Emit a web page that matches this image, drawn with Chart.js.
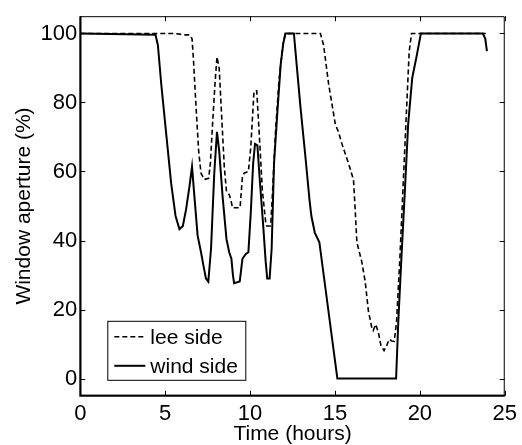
<!DOCTYPE html>
<html>
<head>
<meta charset="utf-8">
<script src="https://cdn.jsdelivr.net/npm/chart.js@4/dist/chart.umd.min.js"></script>
<style>
html,body{margin:0;padding:0;background:#fff;}
#wrap{width:522px;height:445px;}
</style>
</head>
<body>
<div id="wrap"><canvas id="c" width="522" height="445"></canvas></div>
<script>
// ---- data ----
const windT = [0,4.43,4.57,4.77,5.06,5.35,5.61,5.84,6.04,6.23,6.43,6.58,6.72,6.91,7.11,7.25,7.4,7.54,7.7,7.89,8.05,8.18,8.38,8.61,8.77,8.9,8.99,9.06,9.39,9.55,9.75,9.9,10.04,10.18,10.29,10.43,10.57,10.76,10.92,11.01,11.15,11.27,11.41,11.6,11.8,11.95,12.08,12.58,12.71,12.97,13.26,13.5,13.61,13.81,14.08,15.14,18.6,18.73,18.92,19.12,19.31,19.55,19.8,20.06,23.71,23.85,23.95];
const windV = [100,99.6,96.6,85.2,70.9,56.6,47.1,43.3,44.2,49,55.7,61.4,52.8,41.4,36.6,32.8,29,28.1,37.6,59.5,71.5,66,52.8,40.4,36.6,34.7,30,27.6,28.1,34.7,36.1,36.6,48,62.3,68,67.6,57.6,45.2,33.8,29,29,37.6,62.3,76.6,90.9,97,100,100,92.8,78.5,64.2,51.8,47.1,42.3,39.5,0,0,16.6,35.7,54.7,73.7,87.1,93.2,100,100,98.5,94.9];

const leeT = [0,5.5,6.2,6.43,6.58,6.66,6.82,6.97,7.11,7.3,7.56,7.66,7.79,7.93,8.05,8.18,8.34,8.48,8.61,8.77,8.87,8.96,9.41,9.55,9.65,9.9,10.04,10.23,10.39,10.53,10.72,10.92,10.98,11.21,11.31,11.5,11.7,11.8,11.95,12.08,14.14,14.33,14.63,15.02,15.21,15.41,15.8,16.09,16.19,16.29,16.58,16.78,16.97,17.17,17.25,17.4,17.56,17.71,17.89,18.04,18.2,18.34,18.49,18.63,18.83,19.02,19.22,19.37,19.51,23.88];
const leeV = [100,100,99.6,99.6,98.5,92.8,78.5,66,59.5,57.7,58,62.3,73.7,85.2,93.2,89.9,74.7,61.4,54.2,53.3,51.8,49.5,49.5,58.5,59.5,60,67,83.2,83.4,71.8,54.7,45.2,44.2,44.2,52.8,71.8,86.1,90.9,97,100,100,96.6,85.2,73.7,71.4,68,62.3,57.6,49,39.5,33.8,28.1,19.5,14.7,13.9,15.7,13.3,9.5,8.1,9.5,11.4,10.9,10.8,16.6,35.7,56.6,78.5,94.7,100,100];

const xTicks = [0,5,10,15,20,25];
const yTicks = [0,20,40,60,80,100];
const seriesNames = ['lee side','wind side'];
const axisTitles = {x:'Time (hours)', y:'Window aperture (%)'};

const FONT = 'Liberation Sans, Arial, Helvetica, sans-serif';
const toXY = (t,v) => t.map((x,i)=>({x:x,y:v[i]}));

// inward ticks, full box
const boxTicks = {
  id:'boxTicks',
  afterDraw(chart){
    const {ctx, chartArea:a, scales:{x,y}} = chart;
    ctx.save();
    ctx.strokeStyle='#000'; ctx.lineWidth=1;
    ctx.beginPath();
    ctx.rect(a.left+0.5, a.top+0.5, a.right-a.left-1, a.bottom-a.top-1);
    const L=5;
    x.ticks.forEach(t=>{
      const px=Math.round(x.getPixelForValue(t.value))+0.5;
      ctx.moveTo(px,a.bottom); ctx.lineTo(px,a.bottom-L);
      ctx.moveTo(px,a.top); ctx.lineTo(px,a.top+L);
    });
    y.ticks.forEach(t=>{
      const py=Math.round(y.getPixelForValue(t.value))+0.5;
      ctx.moveTo(a.left,py); ctx.lineTo(a.left+L,py);
      ctx.moveTo(a.right,py); ctx.lineTo(a.right-L,py);
    });
    ctx.stroke();
    ctx.lineWidth=2;
    ctx.beginPath();
    ctx.moveTo(a.left, a.top); ctx.lineTo(a.left, a.bottom); ctx.lineTo(a.right, a.bottom);
    ctx.stroke();
    ctx.restore();
  }
};

// legend inside lower-left corner
const boxLegend = {
  id:'boxLegend',
  afterDraw(chart){
    const {ctx, chartArea:a} = chart;
    const bx=a.left+27, bw=138, bh=59, by=a.bottom-16-bh;
    ctx.save();
    ctx.fillStyle='#fff';
    ctx.fillRect(bx,by,bw,bh);
    ctx.strokeStyle='#000'; ctx.lineWidth=1;
    ctx.strokeRect(bx+0.5,by+0.5,bw,bh);
    ctx.font='21px '+FONT;
    ctx.textBaseline='middle';
    ctx.fillStyle='#000';
    chart.data.datasets.forEach((ds,i)=>{
      const yy = by+16+i*29;
      ctx.beginPath();
      ctx.setLineDash(ds.borderDash||[]);
      ctx.lineWidth=ds.borderWidth;
      ctx.strokeStyle=ds.borderColor;
      ctx.moveTo(bx+7,yy); ctx.lineTo(bx+38,yy);
      ctx.stroke();
      ctx.setLineDash([]);
      ctx.fillText(ds.label, bx+43, yy+1);
    });
    ctx.restore();
  }
};

new Chart(document.getElementById('c'), {
  type:'line',
  data:{
    datasets:[
      {label:seriesNames[0], data:toXY(leeT,leeV), borderColor:'#000', borderWidth:1.6, borderDash:[5,3], pointRadius:0, tension:0, fill:false},
      {label:seriesNames[1], data:toXY(windT,windV), borderColor:'#000', borderWidth:2, pointRadius:0, tension:0, fill:false}
    ]
  },
  options:{
    responsive:false,
    animation:false,
    devicePixelRatio:1,
    layout:{padding:{top:10.5,right:15,left:0,bottom:0}},
    plugins:{legend:{display:false}, tooltip:{enabled:false}},
    scales:{
      x:{
        type:'linear', min:0, max:25,
        afterBuildTicks(s){ s.ticks = xTicks.map(v=>({value:v})); },
        afterFit(s){ s.height = 49.2; },
        grid:{display:false, drawTicks:false, tickLength:0},
        border:{display:true, color:'#000', width:1},
        ticks:{color:'#000', padding:5, maxRotation:0, font:{family:FONT, size:22}},
        title:{display:true, text:axisTitles.x, color:'#000', padding:{top:0,bottom:-2}, font:{family:FONT, size:21}}
      },
      y:{
        type:'linear', min:-5, max:105,
        afterBuildTicks(s){ s.ticks = yTicks.map(v=>({value:v})); },
        afterFit(s){ s.width = 80.3; },
        grid:{display:false, drawTicks:false, tickLength:0},
        border:{display:true, color:'#000', width:1},
        ticks:{color:'#000', padding:3, font:{family:FONT, size:22}},
        title:{display:true, text:axisTitles.y, color:'#000', padding:{top:12,bottom:0}, font:{family:FONT, size:21}}
      }
    }
  },
  plugins:[boxTicks, boxLegend]
});
</script>
</body>
</html>
